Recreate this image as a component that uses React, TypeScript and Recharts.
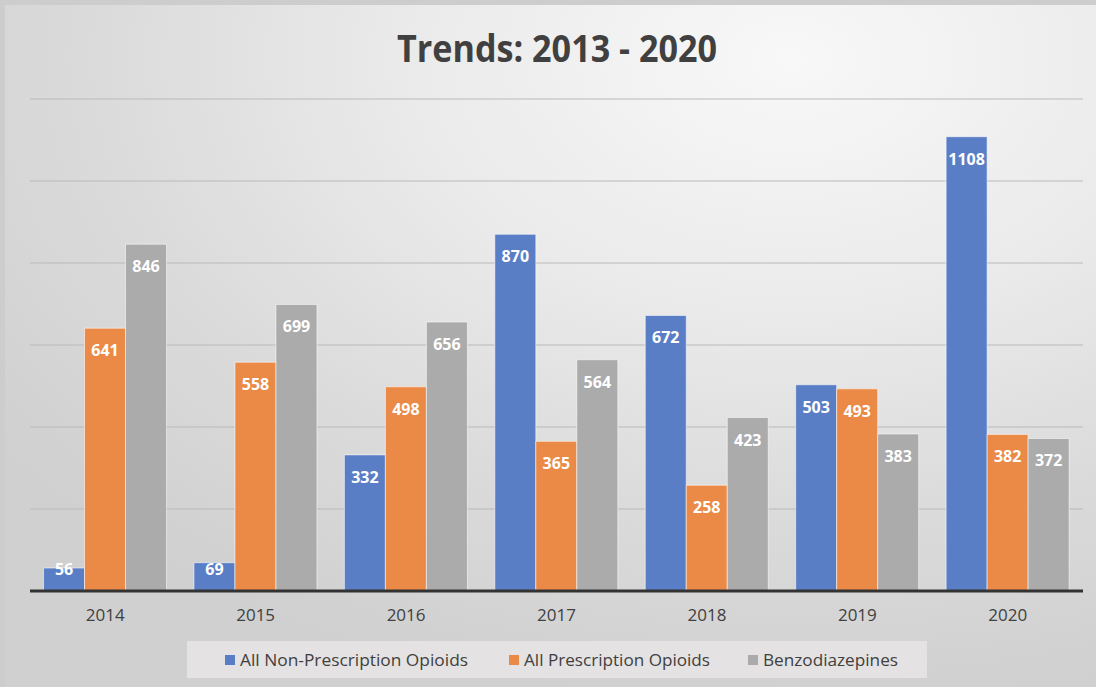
import React from 'react';
import { BarChart, Bar, XAxis, YAxis, CartesianGrid, LabelList } from 'recharts';

const years = ['2014', '2015', '2016', '2017', '2018', '2019', '2020'];
const nonPrescription = [56, 69, 332, 870, 672, 503, 1108];
const prescription = [641, 558, 498, 365, 258, 493, 382];
const benzos = [846, 699, 656, 564, 423, 383, 372];
const yTicks = [0, 200, 400, 600, 800, 1000, 1200];

const data = years.map((year, i) => ({
  year,
  nonPrescription: nonPrescription[i],
  prescription: prescription[i],
  benzos: benzos[i],
}));

const FONT = '"Open Sans", "DejaVu Sans", sans-serif';

// white value label inside the top of the bar, kept above the axis for short bars
const renderLabel = (props: any) => {
  const { x, y, width, height, value } = props;
  const cy = Math.min(y + 22, y + height - 22);
  return (
    <text
      x={x + width / 2}
      y={cy}
      textAnchor="middle"
      dominantBaseline="central"
      fill="#ffffff"
      fontSize={16}
      fontWeight={700}
      fontFamily={FONT}
    >
      {value}
    </text>
  );
};

const legendItems = [
  { label: 'All Non-Prescription Opioids', color: '#5a7ec6', sq: 225, tx: 240, len: 228 },
  { label: 'All Prescription Opioids', color: '#eb8a46', sq: 509, tx: 524, len: 186 },
  { label: 'Benzodiazepines', color: '#ababab', sq: 748, tx: 763, len: 135 },
];

export default function App() {
  return (
    <div style={{ position: 'absolute', left: 0, top: 0, width: 1096, height: 687, background: '#cdcdcd' }}>
      <div
        style={{
          position: 'absolute',
          left: 5,
          top: 5,
          width: 1091,
          height: 682,
          background:
            'radial-gradient(ellipse 90% 95% at 72% 8%, #f8f8f8 0%, #ebeaea 40%, #dcdbdb 70%, #d0d0d0 100%)',
        }}
      />
      <div style={{ position: 'absolute', left: 0, top: 0 }}>
        <BarChart
          width={1096}
          height={687}
          data={data}
          margin={{ top: 99, right: 13, bottom: 66, left: 30 }}
          barCategoryGap="9%"
          barGap={0}
        >
          <CartesianGrid horizontal vertical={false} stroke="#b9b9b9" strokeWidth={1.2} />
          <YAxis hide domain={[0, 1200]} ticks={yTicks} />
          <XAxis
            dataKey="year"
            height={30}
            axisLine={{ stroke: '#333333', strokeWidth: 3 }}
            tickLine={false}
            tick={{ fill: '#404040', fontSize: 17, fontFamily: FONT }}
            tickMargin={12}
          />
          <Bar dataKey="nonPrescription" fill="#5a7ec6" stroke="rgba(255,255,255,0.55)" strokeWidth={1} isAnimationActive={false}>
            <LabelList dataKey="nonPrescription" content={renderLabel} />
          </Bar>
          <Bar dataKey="prescription" fill="#eb8a46" stroke="rgba(255,255,255,0.55)" strokeWidth={1} isAnimationActive={false}>
            <LabelList dataKey="prescription" content={renderLabel} />
          </Bar>
          <Bar dataKey="benzos" fill="#ababab" stroke="rgba(255,255,255,0.55)" strokeWidth={1} isAnimationActive={false}>
            <LabelList dataKey="benzos" content={renderLabel} />
          </Bar>
        </BarChart>
      </div>
      <svg width={1096} height={687} style={{ position: 'absolute', left: 0, top: 0, pointerEvents: 'none' }}>
        <text
          x={397}
          y={62}
          fill="#404040"
          fontSize={38}
          fontWeight={700}
          fontFamily={FONT}
          textLength={320}
          lengthAdjust="spacingAndGlyphs"
        >
          Trends: 2013 - 2020
        </text>
        <rect x={187} y={641} width={740} height={37} fill="#e4e2e2" />
        {legendItems.map((item) => (
          <g key={item.label}>
            <rect x={item.sq} y={655} width={10} height={10} fill={item.color} />
            <text
              x={item.tx}
              y={666}
              fill="#404040"
              fontSize={16}
              fontFamily={FONT}
              textLength={item.len}
              lengthAdjust="spacingAndGlyphs"
            >
              {item.label}
            </text>
          </g>
        ))}
      </svg>
    </div>
  );
}
